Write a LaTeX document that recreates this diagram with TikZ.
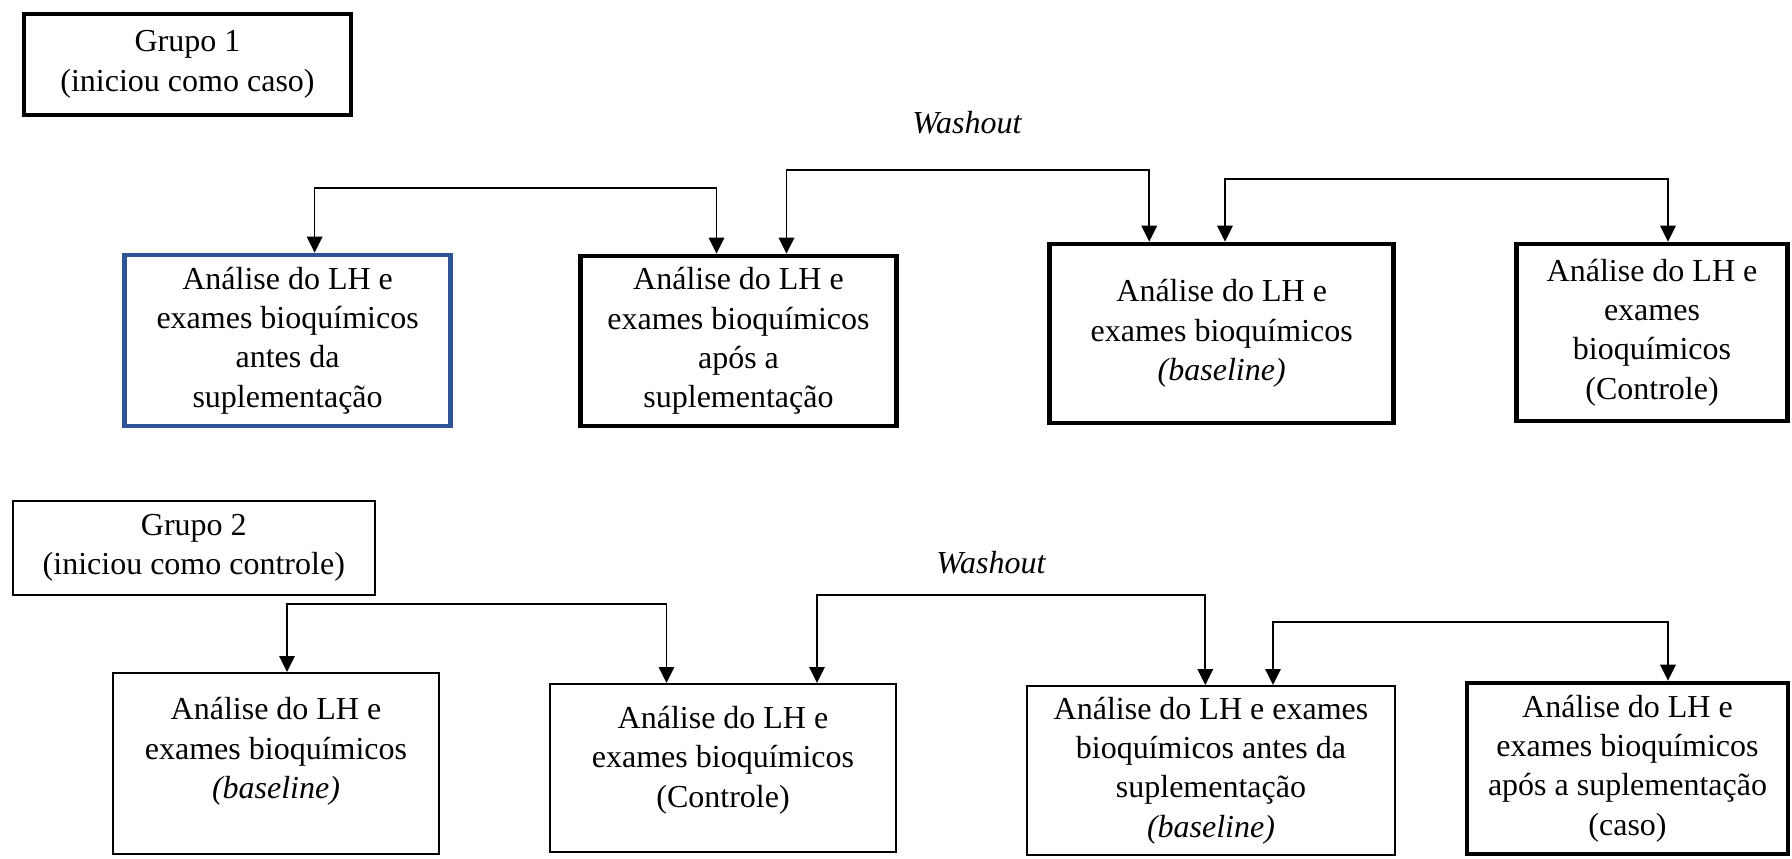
\documentclass[tikz,border=0pt]{standalone}
\usepackage{fontspec}
\setmainfont{Liberation Serif}
\usetikzlibrary{arrows.meta, calc}
\definecolor{azul}{HTML}{2F5496}

\begin{document}
\begin{tikzpicture}[
  x=0.35pt, y=-0.35pt,
  font=\fontsize{11.2}{13.8}\selectfont,
  caixa/.style={rectangle, draw=black, line width=0.7pt, align=center, inner sep=2pt},
  caixaforte/.style={caixa, line width=1.6pt},
  caixaazul/.style={caixa, draw=azul, line width=1.6pt},
  seta/.style={{Triangle[length=5.6pt,width=5.4pt]}-{Triangle[length=5.6pt,width=5.4pt]}, line width=0.6pt},
  rotulo/.style={font=\fontsize{11.2}{13.8}\selectfont\itshape},
]
\useasboundingbox (0,0) rectangle (1792,859);

% --- Grupo 1 ---
\node[caixaforte, minimum width=114.45pt, minimum height=35.35pt] (g1) at (187.5,64.5)
  {Grupo 1\\(iniciou como caso)};
\node[caixaazul, minimum width=114.1pt, minimum height=59.85pt] (a1) at (287.6,340.5)
  {Análise do LH e\\exames bioquímicos\\antes da\\suplementação};
\node[caixaforte, minimum width=110.6pt, minimum height=59.5pt] (a2) at (738.5,341)
  {Análise do LH e\\exames bioquímicos\\após a\\suplementação};
\node[caixaforte, minimum width=120.4pt, minimum height=62.65pt] (a3) at (1221.7,333.5)
  {Análise do LH e\\exames bioquímicos\\\textit{(baseline)}};
\node[caixaforte, minimum width=94.85pt, minimum height=61.95pt] (a4) at (1652,332.5)
  {Análise do LH e\\exames\\bioquímicos\\(Controle)};
\node[rotulo] (wash1) at (967,123) {Washout};

% --- Ligações do grupo 1 ---
\draw[seta] ($(a1.north)+(27,0)$) -- ++(0,-65) -| ($(a2.north)+(-22,0)$);
\draw[seta] ($(a2.north)+(48,0)$) -- ++(0,-84) -| ($(a3.north)+(-72.5,0)$);
\draw[seta] ($(a3.north)+(3.3,0)$) -- ++(0,-63) -| ($(a4.north)+(16,0)$);

% --- Grupo 2 ---
\node[caixa, minimum width=126.7pt, minimum height=32.9pt] (g2) at (193.8,548)
  {Grupo 2\\(iniciou como controle)};
\node[caixa, minimum width=114.1pt, minimum height=63.35pt] (b1) at (276,763.5)
  {Análise do LH e\\exames bioquímicos\\\textit{(baseline)}\\[-3pt]\mbox{}};
\node[caixa, minimum width=121.1pt, minimum height=58.8pt] (b2) at (723,768)
  {Análise do LH e\\exames bioquímicos\\(Controle)\\[-6pt]\mbox{}};
\node[caixa, minimum width=128.8pt, minimum height=59.15pt] (b3) at (1211,770.5)
  {Análise do LH e exames\\bioquímicos antes da\\suplementação\\\textit{(baseline)}};
\node[caixaforte, minimum width=112.35pt, minimum height=59.85pt] (b4) at (1627.5,768.5)
  {Análise do LH e\\exames bioquímicos\\após a suplementação\\(caso)};
\node[rotulo] (wash2) at (991,563) {Washout};

% --- Ligações do grupo 2 ---
\draw[seta] ($(b1.north)+(11,0)$) -- ++(0,-68) -| ($(b2.north)+(-56.5,0)$);
\draw[seta] ($(b2.north)+(94,0)$) -- ++(0,-88) -| ($(b3.north)+(-5.7,0)$);
\draw[seta] ($(b3.north)+(62,0)$) -- ++(0,-63) -| ($(b4.north)+(40.5,0)$);

\end{tikzpicture}
\end{document}
